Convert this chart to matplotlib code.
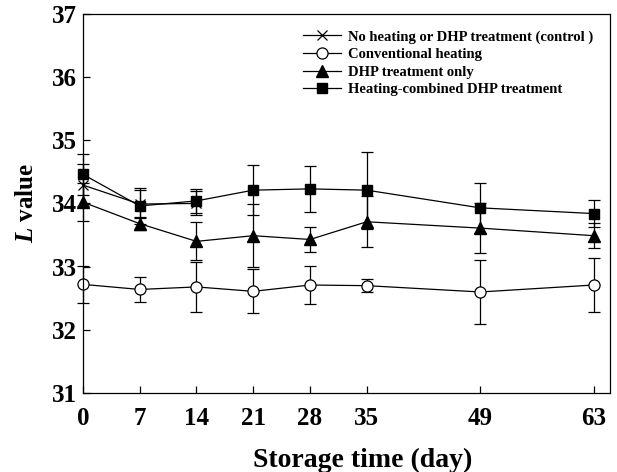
import numpy as np
import matplotlib.pyplot as plt
from matplotlib.lines import Line2D

# storage days
days = [0, 7, 14, 21, 28, 35, 49, 63]

# L values and standard deviations
control_days = [0, 7, 14]
control_mean = [34.29, 33.99, 34.00]
control_sd = [0.33, 0.22, 0.19]

conv_mean = [32.72, 32.64, 32.68, 32.61, 32.71, 32.70, 32.60, 32.71]
conv_sd = [0.29, 0.20, 0.40, 0.35, 0.30, 0.10, 0.50, 0.43]

dhp_mean = [34.02, 33.68, 33.40, 33.49, 33.43, 33.71, 33.61, 33.49]
dhp_sd = [0.30, 0.10, 0.30, 0.50, 0.20, 0.40, 0.40, 0.20]

comb_mean = [34.46, 33.96, 34.04, 34.21, 34.23, 34.21, 33.93, 33.84]
comb_sd = [0.32, 0.28, 0.19, 0.40, 0.36, 0.61, 0.40, 0.21]

labels = ['No heating or DHP treatment (control )',
          'Conventional heating',
          'DHP treatment only',
          'Heating-combined DHP treatment']

plt.rcParams['font.family'] = ['Liberation Serif', 'DejaVu Serif']
plt.rcParams['font.weight'] = 'bold'
plt.rcParams['mathtext.fontset'] = 'custom'
plt.rcParams['mathtext.it'] = 'Liberation Serif:italic:bold'
plt.rcParams['mathtext.rm'] = 'Liberation Serif:bold'


def main():
    fig = plt.figure(figsize=(6.17, 4.72), dpi=100)
    ax = fig.add_axes([0.1345, 0.167, 0.854, 0.804])

    common = dict(color='black', ecolor='black', elinewidth=0.9, capsize=4, capthick=0.9,
                  linewidth=0.9, clip_on=False)

    series = [
        (control_days, control_mean, control_sd, dict(marker='x', markersize=7, markeredgewidth=0.9)),
        (days, conv_mean, conv_sd, dict(marker='o', markersize=8, markerfacecolor='white',
                                         markeredgecolor='black', markeredgewidth=0.9)),
        (days, dhp_mean, dhp_sd, dict(marker='^', markersize=8, markerfacecolor='black')),
        (days, comb_mean, comb_sd, dict(marker='s', markersize=7, markerfacecolor='black')),
    ]

    handles = []
    for (x, m, s, mk), lab in zip(series, labels):
        h = ax.errorbar(x, m, yerr=s, **common, **mk)
        for art in h.lines[1] + h.lines[2]:
            art.set_clip_on(False)
        # legend shows line + marker only
        handles.append(Line2D([], [], color='black', linewidth=0.9, label=lab, **mk))

    ax.set_xlim(0, 65)
    ax.set_ylim(31, 37)
    ax.set_xticks(days)
    ax.set_yticks([31, 32, 33, 34, 35, 36, 37])
    ax.tick_params(direction='in', length=5, width=0.9, labelsize=18)
    ax.tick_params(axis='x', pad=10)
    ax.tick_params(axis='y', pad=4)
    for sp in ax.spines.values():
        sp.set_linewidth(0.9)

    ax.set_xlabel('Storage time (day)', fontsize=20, fontweight='bold')
    ax.xaxis.set_label_coords(0.531, -0.143)
    ax.set_ylabel(r'$L$ value', fontsize=18, fontweight='bold')
    ax.yaxis.set_label_coords(-0.085, 0.5)

    ax.legend(handles=handles, loc='upper right', bbox_to_anchor=(0.985, 0.98),
              frameon=False, prop={'size': 10.5, 'weight': 'bold'},
              handlelength=2.6, handletextpad=0.5, labelspacing=0.3, borderaxespad=0.2)

    plt.savefig('out.png', dpi=100)


if __name__ == '__main__':
    main()
